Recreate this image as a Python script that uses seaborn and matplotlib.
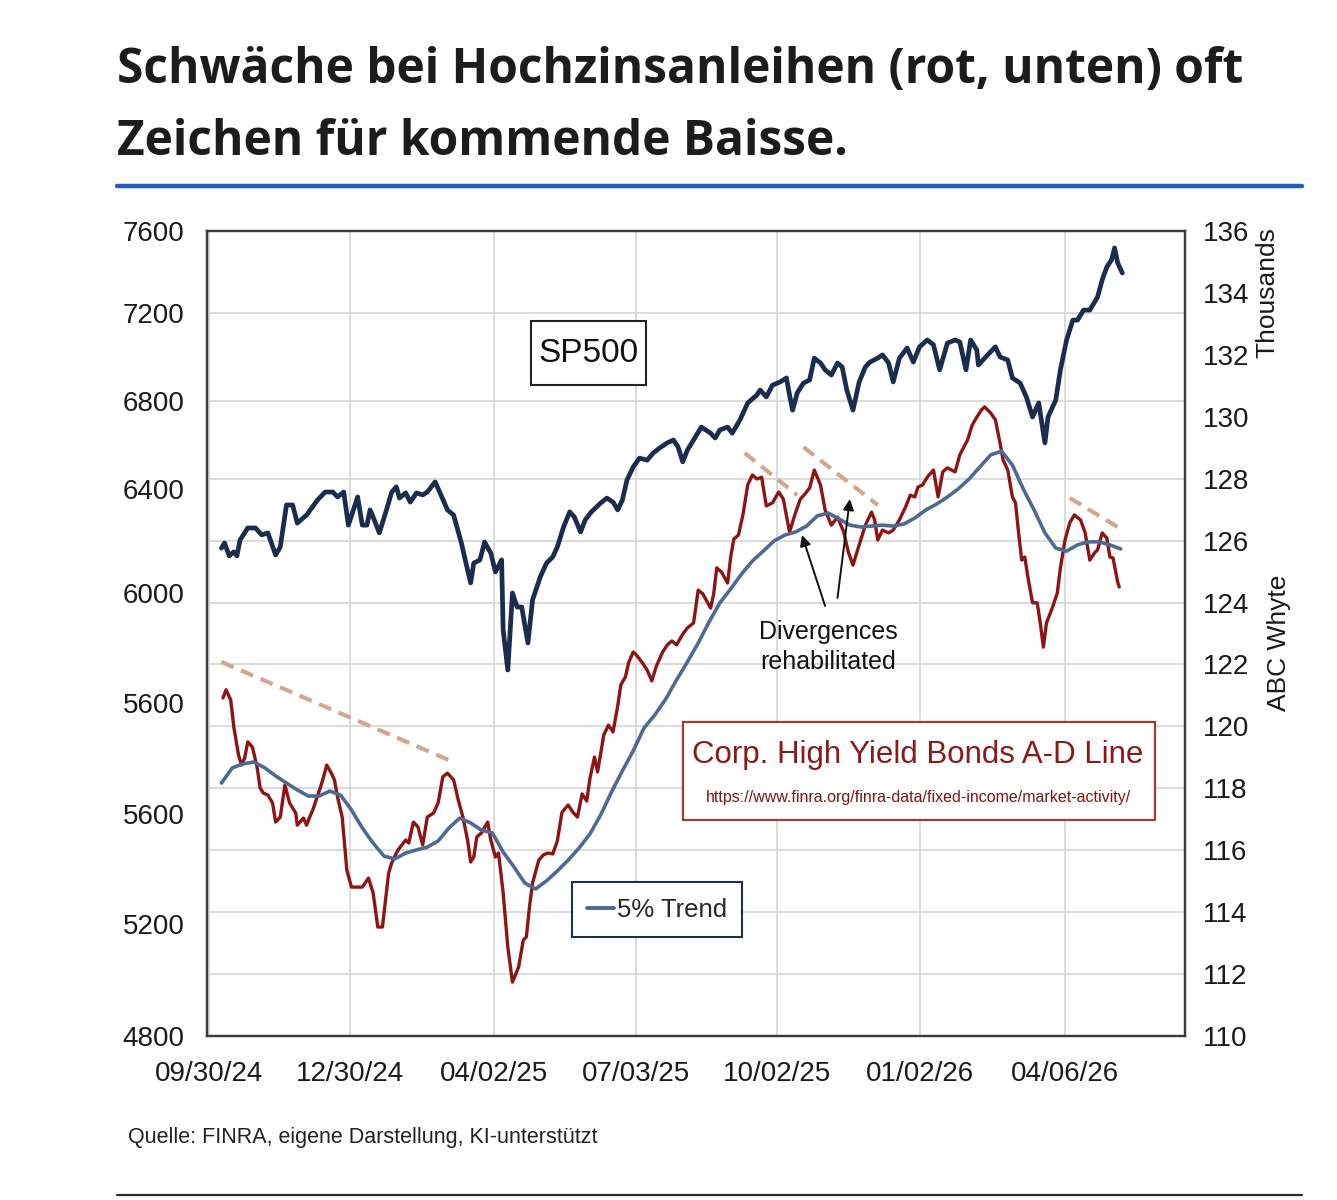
import numpy as np
import pandas as pd
import matplotlib
matplotlib.use("Agg")
import matplotlib.pyplot as plt
from matplotlib.lines import Line2D
from matplotlib.patches import Rectangle
import seaborn as sns

# ---------------- data ----------------
base_date = "2024-09-30"   # day 0 = first x tick

# S&P 500: day offset from base_date and index level
sp500_day = [8, 10, 13, 16, 18, 20, 25, 30, 34, 38,
             43, 46, 50, 54, 57, 63, 70, 75, 80, 83,
             87, 90, 96, 99, 102, 104, 106, 110, 114, 118,
             121, 123, 127, 130, 134, 138, 141, 146, 149, 154,
             158, 161, 163, 167, 169, 171, 175, 178, 182, 185,
             189, 190, 193, 196, 199, 202, 206, 209, 214, 218,
             222, 225, 229, 233, 236, 240, 243, 247, 253, 257,
             261, 264, 267, 270, 274, 278, 283, 287, 291, 296,
             300, 303, 306, 309, 313, 318, 324, 327, 330, 335,
             338, 343, 348, 354, 356, 360, 364, 369, 373, 375,
             377, 380, 384, 388, 391, 395, 398, 402, 406, 409,
             412, 416, 420, 424, 427, 432, 435, 439, 442, 446,
             451, 455, 459, 464, 468, 472, 477, 482, 485, 489,
             492, 496, 497, 503, 508, 511, 516, 519, 524, 528,
             532, 536, 540, 542, 547, 550, 554, 558, 561, 565,
             569, 574, 577, 580, 583, 585, 587, 590]
sp500_value = [6497, 6515, 6470, 6484, 6470, 6525, 6567, 6567, 6543, 6550,
               6473, 6501, 6647, 6647, 6584, 6612, 6664, 6692, 6692, 6675,
               6692, 6577, 6675, 6577, 6577, 6630, 6605, 6550, 6619, 6692,
               6710, 6671, 6689, 6657, 6689, 6682, 6692, 6727, 6692, 6630,
               6612, 6553, 6515, 6421, 6376, 6445, 6456, 6518, 6480, 6414,
               6456, 6212, 6073, 6341, 6292, 6292, 6167, 6317, 6397, 6445,
               6466, 6501, 6570, 6623, 6605, 6553, 6595, 6623, 6654, 6671,
               6657, 6630, 6664, 6734, 6779, 6810, 6803, 6828, 6845, 6863,
               6873, 6849, 6797, 6838, 6873, 6918, 6897, 6880, 6908, 6918,
               6897, 6943, 7002, 7030, 7047, 7023, 7064, 7075, 7089, 7030,
               6977, 7037, 7071, 7082, 7158, 7141, 7117, 7099, 7141, 7127,
               7047, 6977, 7075, 7127, 7144, 7158, 7169, 7141, 7075, 7158,
               7193, 7144, 7197, 7221, 7204, 7117, 7210, 7221, 7214, 7117,
               7221, 7186, 7134, 7169, 7197, 7162, 7151, 7089, 7071, 7023,
               6953, 7002, 6863, 6953, 7012, 7117, 7221, 7290, 7290, 7325,
               7325, 7370, 7430, 7475, 7499, 7541, 7489, 7454]

# Corp. High Yield Bonds A-D line (thousands): day offset and level
hy_day = [9, 11, 14, 16, 19, 21, 23, 25, 28, 31,
          33, 35, 38, 41, 43, 46, 49, 52, 56, 57,
          61, 63, 65, 67, 72, 74, 76, 79, 81, 83,
          86, 89, 92, 96, 99, 103, 106, 109, 112, 114,
          116, 118, 121, 123, 127, 129, 132, 135, 138, 141,
          145, 148, 151, 154, 158, 161, 164, 167, 169, 171,
          173, 176, 180, 182, 185, 187, 190, 193, 196, 200,
          203, 205, 207, 209, 213, 216, 219, 222, 225, 228,
          232, 235, 238, 241, 244, 246, 249, 251, 255, 258,
          261, 264, 266, 269, 271, 274, 276, 280, 283, 286,
          289, 293, 296, 299, 302, 306, 309, 313, 316, 319,
          324, 326, 328, 331, 335, 337, 339, 342, 345, 348,
          351, 354, 357, 360, 364, 368, 371, 375, 379, 382,
          385, 388, 391, 395, 398, 402, 406, 410, 413, 416,
          419, 424, 428, 430, 432, 435, 439, 442, 446, 450,
          453, 456, 458, 461, 464, 468, 471, 474, 477, 482,
          485, 490, 493, 496, 499, 501, 505, 508, 511, 513,
          516, 519, 521, 523, 525, 527, 529, 532, 535, 537,
          539, 541, 545, 548, 550, 553, 556, 559, 563, 566,
          569, 572, 574, 577, 580, 582, 584, 587, 588]
hy_value = [120.92, 121.18, 120.85, 119.98, 119.08, 118.75, 118.98, 119.50, 119.33, 118.69,
            118.01, 117.85, 117.78, 117.53, 116.91, 117.07, 118.11, 117.53, 117.20, 116.81,
            117.04, 116.81, 117.07, 117.30, 118.04, 118.37, 118.75, 118.49, 118.27, 117.72,
            117.07, 115.36, 114.81, 114.81, 114.81, 115.10, 114.62, 113.52, 113.52, 114.39,
            115.26, 115.59, 115.91, 116.07, 116.33, 116.23, 116.91, 116.75, 116.17, 117.07,
            117.20, 117.53, 118.37, 118.49, 118.27, 117.62, 117.07, 116.33, 115.62, 115.78,
            116.43, 116.56, 116.91, 116.33, 115.78, 115.91, 114.62, 112.87, 111.74, 112.23,
            113.10, 113.20, 114.17, 114.94, 115.68, 115.85, 115.91, 115.88, 116.30, 117.23,
            117.46, 117.23, 117.07, 117.82, 117.59, 118.30, 119.01, 118.53, 119.72, 120.04,
            119.82, 120.66, 121.34, 121.60, 122.05, 122.40, 122.31, 122.05, 121.82, 121.47,
            121.95, 122.40, 122.63, 122.76, 122.63, 122.98, 123.18, 123.34, 124.40, 124.28,
            123.82, 124.28, 125.12, 124.99, 124.63, 125.47, 126.05, 126.18, 126.86, 127.80,
            128.12, 127.99, 128.05, 127.12, 127.22, 127.57, 127.34, 126.28, 126.92, 127.34,
            127.51, 127.70, 128.28, 127.80, 126.99, 126.50, 126.76, 126.28, 125.63, 125.21,
            125.70, 126.50, 126.92, 126.67, 126.02, 126.34, 126.25, 126.34, 126.67, 127.09,
            127.47, 127.41, 127.73, 127.80, 128.05, 128.28, 127.41, 128.22, 128.35, 128.22,
            128.77, 129.25, 129.73, 129.99, 130.22, 130.32, 130.12, 129.90, 129.15, 128.60,
            128.28, 127.41, 127.22, 126.25, 125.37, 125.47, 124.82, 123.99, 123.99, 123.34,
            122.56, 123.34, 123.86, 124.31, 125.12, 126.02, 126.57, 126.83, 126.67, 126.25,
            125.37, 125.60, 125.70, 126.25, 126.08, 125.47, 125.44, 124.66, 124.50]

# 5% trend of the A-D line, weekly from trend_start
trend_start = "2024-10-08"
hy_trend = [118.17, 118.66, 118.79, 118.85, 118.66, 118.40, 118.17, 117.95, 117.75, 117.75,
            117.91, 117.78, 117.30, 116.72, 116.23, 115.81, 115.72, 115.91, 116.01, 116.10,
            116.30, 116.72, 117.04, 116.88, 116.65, 116.56, 115.94, 115.46, 114.94, 114.75,
            115.01, 115.33, 115.68, 116.07, 116.52, 117.14, 117.88, 118.56, 119.21, 119.95,
            120.37, 120.88, 121.50, 122.08, 122.69, 123.37, 123.99, 124.44, 124.92, 125.34,
            125.66, 125.99, 126.18, 126.28, 126.47, 126.80, 126.89, 126.70, 126.50, 126.44,
            126.47, 126.50, 126.47, 126.54, 126.73, 126.99, 127.18, 127.41, 127.67, 127.99,
            128.38, 128.77, 128.89, 128.44, 127.67, 126.99, 126.25, 125.76, 125.66, 125.86,
            125.96, 125.96, 125.86, 125.73]

# dashed divergence lines (start/end date, start/end value on the A-D axis)
div_dates = [("2024-10-08", "2025-03-04"), ("2025-09-11", "2025-10-15"),
             ("2025-10-19", "2025-12-06"), ("2026-04-09", "2026-05-10")]
div_values = [(122.08, 118.91), (128.83, 127.47), (129.02, 127.15), (127.38, 126.44)]

# arrows "Divergences rehabilitated" (tail -> head, on the A-D axis)
arrow_tails = [("2025-11-02", 123.89), ("2025-11-10", 124.15)]
arrow_heads = [("2025-10-18", 126.18), ("2025-11-18", 127.34)]

x_tick_labels = ["09/30/24", "12/30/24", "04/02/25", "07/03/25", "10/02/25", "01/02/26", "04/06/26"]
left_tick_labels = ["4800", "5200", "5600", "5600", "6000", "6400", "6800", "7200", "7600"]
right_ticks = list(range(110, 137, 2))

title_lines = ["Schwäche bei Hochzinsanleihen (rot, unten) oft", "Zeichen für kommende Baisse."]
source_text = "Quelle: FINRA, eigene Darstellung, KI-unterstützt"

# ---------------- styling ----------------
sns.set_theme(style="white")
CHART_FONT = ["Liberation Sans Narrow", "Liberation Sans", "DejaVu Sans"]
plt.rcParams["font.family"] = CHART_FONT

SP_COL = "#1b2d4f"
RED = "#8e1414"
TREND_COL = "#4d6a93"
DASH_COL = "#d2a792"
GRID_COL = "#d9d9d9"
FRAME_COL = "#3c3c3c"
TXT = "#1a1a1a"

W, H = 1337, 1200
fig = plt.figure(figsize=(W / 100, H / 100), dpi=100)
fig.patch.set_facecolor("white")

ax_l, ax_r, ax_t, ax_b = 207, 1185, 231, 1036
ax = fig.add_axes([ax_l / W, 1 - ax_b / H, (ax_r - ax_l) / W, (ax_b - ax_t) / H])
ax2 = ax.twinx()

base = pd.Timestamp(base_date)
df_sp = pd.DataFrame({"date": base + pd.to_timedelta(sp500_day, unit="D"), "value": sp500_value})
df_hy = pd.DataFrame({"date": base + pd.to_timedelta(hy_day, unit="D"), "value": hy_value})
df_tr = pd.DataFrame({"date": pd.date_range(trend_start, periods=len(hy_trend), freq="7D"),
                      "value": hy_trend})

# axis ranges
ax.set_ylim(4800, 7600)
ax2.set_ylim(110, 136)
ax.set_xlim(pd.Timestamp("2024-09-28 16:00"), pd.Timestamp("2026-06-22 12:00"))

# grid (drawn on the lower axes so it stays behind every line)
ax.set_axisbelow(True)
tick_dates = pd.to_datetime(x_tick_labels, format="%m/%d/%y")
for d in tick_dates:
    ax.axvline(d, color=GRID_COL, lw=1.3, zorder=0)
grid_fracs = [(v - 110) / 26 for v in range(112, 130, 2)] + [0.7888, 0.8981]
for f in grid_fracs:
    ax.axhline(4800 + f * 2800, color=GRID_COL, lw=1.3, zorder=0)

# SP500
sns.lineplot(data=df_sp, x="date", y="value", ax=ax, color=SP_COL, linewidth=3.4,
             legend=False, zorder=3)

# divergence dashed lines
for (d0, d1), (v0, v1) in zip(div_dates, div_values):
    ax2.plot(pd.to_datetime([d0, d1]), [v0, v1], color=DASH_COL, lw=3.0,
             dashes=(3.2, 1.9), solid_capstyle="butt", zorder=2)

# A-D line and its trend
sns.lineplot(data=df_hy, x="date", y="value", ax=ax2, color=RED, linewidth=2.4,
             legend=False, zorder=3)
sns.lineplot(data=df_tr, x="date", y="value", ax=ax2, color=TREND_COL, linewidth=2.6,
             legend=False, zorder=4)

# ticks
ax.set_xticks(tick_dates)
ax.set_xticklabels(x_tick_labels)
left_fracs = [0.0, 0.1391, 0.2758, 0.4137, 0.5503, 0.6795, 0.7888, 0.8981, 1.0]
ax.set_yticks([4800 + f * 2800 for f in left_fracs])
ax.set_yticklabels(left_tick_labels)
ax2.set_yticks(right_ticks)
ax2.set_yticklabels([str(v) for v in right_ticks])
ax.tick_params(axis="x", length=0, pad=18, labelsize=20, labelcolor=TXT)
ax.tick_params(axis="y", length=0, pad=16, labelsize=20, labelcolor=TXT)
ax2.tick_params(axis="y", length=0, pad=13, labelsize=20, labelcolor=TXT)
ax.set_xlabel("")
ax.set_ylabel("")
ax2.set_xlabel("")
ax2.set_ylabel("ABC Whyte", fontsize=19, color=TXT)
ax2.yaxis.set_label_coords(1.084, 0.488)
ax2.text(1.084, 0.923, "Thousands", transform=ax2.transAxes, rotation=90,
         ha="center", va="center", fontsize=19, color=TXT)

for a in (ax, ax2):
    for s in a.spines.values():
        s.set_color(FRAME_COL)
        s.set_linewidth(1.6)

# SP500 label box
ax2.add_patch(Rectangle((0.3313, 0.8087), 0.1176, 0.0795, transform=ax2.transAxes,
                        facecolor="white", edgecolor="#222222", lw=1.5, zorder=6))
ax2.text(0.3906, 0.8484, "SP500", transform=ax2.transAxes, ha="center", va="center",
         fontsize=24, color="#111111", zorder=7)

# Corp. High Yield box
ax2.add_patch(Rectangle((0.4867, 0.2683), 0.4826, 0.1217, transform=ax2.transAxes,
                        facecolor="white", edgecolor="#a23a3a", lw=1.6, zorder=6))
ax2.text(0.7270, 0.3491, "Corp. High Yield Bonds A-D Line", transform=ax2.transAxes,
         ha="center", va="center", fontsize=22.5, color="#8a1a1a", zorder=7)
ax2.text(0.7270, 0.2957, "https://www.finra.org/finra-data/fixed-income/market-activity/",
         transform=ax2.transAxes, ha="center", va="center", fontsize=11.5, color="#7a1515", zorder=7)

# Divergences annotation
ax2.text(0.635, 0.4832, "Divergences\nrehabilitated", transform=ax2.transAxes,
         ha="center", va="center", fontsize=18, color="#111111", linespacing=1.35, zorder=7)
for (td, tv), (hd, hv) in zip(arrow_tails, arrow_heads):
    ax2.annotate("", xy=(pd.Timestamp(hd), hv), xytext=(pd.Timestamp(td), tv),
                 arrowprops=dict(arrowstyle="-|>", color="#111111", lw=1.4,
                                 mutation_scale=16, shrinkA=0, shrinkB=0), zorder=7)

# legend for the trend
handle = Line2D([], [], color=TREND_COL, lw=2.8)
leg = ax2.legend([handle], ["5% Trend"], loc="lower left", bbox_to_anchor=(0.3732, 0.123),
                 fontsize=18.5, frameon=True, fancybox=False, edgecolor="#1f2f4f",
                 framealpha=1, handlelength=1.05, handletextpad=0.1, borderpad=0.6,
                 borderaxespad=0)
leg.get_frame().set_linewidth(1.5)
leg.set_zorder(8)

# title, rules and source
fig.text(117 / W, 1 - 83 / H, title_lines[0], ha="left", va="baseline", fontsize=34.5,
         fontweight="bold", color="#1c1c1c", family=["Open Sans", "DejaVu Sans"])
fig.text(117 / W, 1 - 155 / H, title_lines[1], ha="left", va="baseline", fontsize=34.5,
         fontweight="bold", color="#1c1c1c", family=["Open Sans", "DejaVu Sans"])
fig.add_artist(Line2D([117 / W, 1302 / W], [1 - 186 / H, 1 - 186 / H], color="#1f5fbf", lw=3.2))
fig.add_artist(Line2D([117 / W, 1302 / W], [1 - 1195 / H, 1 - 1195 / H], color="#2b2b2b", lw=1.6))
fig.text(128 / W, 1 - 1143 / H, source_text, ha="left", va="baseline", fontsize=15.5, color="#222222")

fig.savefig("out.png", dpi=100, facecolor="white")
